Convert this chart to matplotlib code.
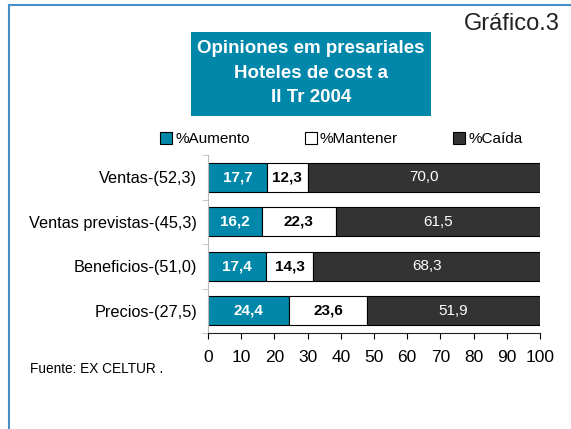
import numpy as np
import matplotlib
matplotlib.use('Agg')
import matplotlib.pyplot as plt
from matplotlib.patches import Patch, Rectangle
from matplotlib.lines import Line2D

plt.rcParams['font.family'] = ['Liberation Sans', 'DejaVu Sans']

categories = ['Ventas-(52,3)', 'Ventas previstas-(45,3)', 'Beneficios-(51,0)', 'Precios-(27,5)']
aumento = [17.7, 16.2, 17.4, 24.4]
mantener = [12.3, 22.3, 14.3, 23.6]
caida = [70.0, 61.5, 68.3, 51.9]
series_names = ['%Aumento', '%Mantener', '%Caída']
colors = ['#0087AA', '#FFFFFF', '#333333']

fig = plt.figure(figsize=(5.71, 4.29), dpi=100)
ax = fig.add_axes([208 / 571, 1 - 333 / 429, 332 / 571, 178 / 429])

y = np.arange(len(categories))
left = np.zeros(len(categories))
txt_styles = [('white', 'bold'), ('black', 'bold'), ('white', 'normal')]
for vals, col, name, (tc, tw) in zip([aumento, mantener, caida], colors, series_names, txt_styles):
    bars = ax.barh(y, vals, left=left, height=0.66, color=col, edgecolor='black', linewidth=0.8, label=name)
    for b, v in zip(bars, vals):
        ax.text(b.get_x() + b.get_width() / 2, b.get_y() + b.get_height() / 2,
                ('%.1f' % v).replace('.', ','), ha='center', va='center',
                color=tc, fontweight=tw, fontsize=11)
    left = left + np.array(vals)

ax.set_xlim(0, 100)
ax.set_ylim(len(categories) - 0.5, -0.5)
ax.set_xticks(np.arange(0, 101, 10))
ax.set_yticks(y)
ax.set_yticklabels(categories, fontsize=11.7)
ax.set_yticks(np.arange(-0.5, len(categories), 1), minor=True)
ax.tick_params(axis='y', which='major', length=0, pad=8)
ax.tick_params(axis='y', which='minor', length=4, color='#BBBBBB', direction='out')
ax.tick_params(axis='x', length=4, labelsize=12.5, pad=8, direction='out')
ax.spines['top'].set_visible(False)
ax.spines['right'].set_visible(False)
ax.spines['left'].set_color('#BBBBBB')
ax.spines['bottom'].set_color('#222222')

handles = [Patch(facecolor=c, edgecolor='black', linewidth=0.8) for c in colors]
fig.legend(handles, series_names, loc='center left', bbox_to_anchor=(146 / 571, 1 - 139 / 429),
           ncol=3, frameon=False, fontsize=11, handlelength=0.8, handleheight=0.8,
           handletextpad=0.2, columnspacing=3.6)

# title box
fig.add_artist(Rectangle((191 / 571, 1 - 116 / 429), 240 / 571, 84 / 429,
                         transform=fig.transFigure, facecolor='#0087AA', edgecolor='none'))
fig.text(311 / 571, 1 - 73 / 429, 'Opiniones em presariales\nHoteles de cost a\nII Tr 2004',
         ha='center', va='center', color='white', fontweight='bold', fontsize=13.5,
         linespacing=1.55)

fig.text(560 / 571, 1 - 24 / 429, 'Gráfico.3', ha='right', va='center', fontsize=17, color='#222222')
fig.text(30 / 571, 1 - 369 / 429, 'Fuente: EX CELTUR .', ha='left', va='center', fontsize=9.8)

# frame lines
fig.add_artist(Line2D([9 / 571, 1], [1 - 5 / 429, 1 - 5 / 429], color='#4A90C8', linewidth=1.5))
fig.add_artist(Line2D([9 / 571, 9 / 571], [1 - 5 / 429, 0], color='#4A90C8', linewidth=1.5))

fig.savefig('out.png', dpi=100)
